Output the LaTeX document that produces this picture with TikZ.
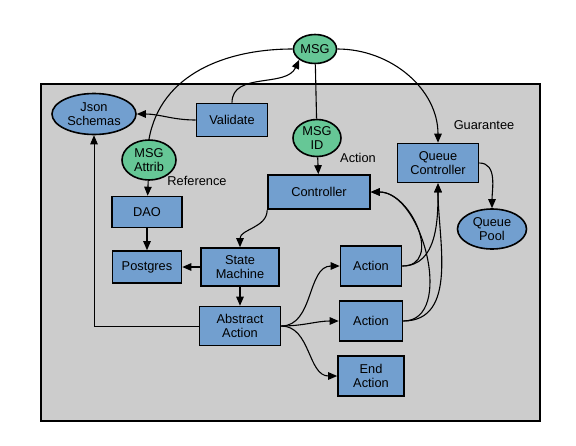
\documentclass[tikz,border=0pt]{standalone}
\usepackage{fontspec}
\setmainfont{Liberation Sans}
\usetikzlibrary{positioning,shapes.geometric,arrows.meta}
\definecolor{boxblue}{HTML}{729FCF}
\definecolor{tokengreen}{HTML}{66C796}
\definecolor{panelgray}{HTML}{CCCCCC}

\begin{document}
\begin{tikzpicture}[x=1pt, y=-1pt, node distance=55pt, on grid,
		>={Triangle[length=9pt,width=7.5pt]},
		font=\fontsize{12.8}{14.5}\selectfont]
	\tikzset{box/.style={draw, line width=1.6pt, fill=boxblue, align=center, inner sep=0pt}}
	\tikzset{token/.style={ellipse, draw, line width=1.6pt, fill=tokengreen, align=center, inner sep=0pt}}
	\tikzset{store/.style={ellipse, draw, line width=1.6pt, fill=boxblue, align=center, inner sep=0pt}}
	\tikzset{link/.style={line width=1.1pt}}
	\useasboundingbox (0,0) rectangle (576,445);
	\draw[fill=panelgray, line width=1.5pt] (41,84) rectangle (540,421);

	\node[token, minimum width=43pt, minimum height=29pt]	(msg)		at (315,49)		{MSG};
	\node[store, minimum width=84pt, minimum height=41pt]	(json)		at (94,114)		{Json\\Schemas};
	\node[box, minimum width=71pt, minimum height=33pt]		(validate)	at (232,120)	{Validate};
	\node[token, minimum width=54pt, minimum height=40pt]	(attrib)	at (149,160)	{MSG\\Attrib};
	\node[token, minimum width=48pt, minimum height=37pt]	(msgid)		at (317,138)	{MSG\\ID};
	\node[box, minimum width=102pt, minimum height=34pt]	(ctrl)		at (319,192)	{Controller};
	\node[box, minimum width=81pt, minimum height=39pt]		(qctrl)		at (438,163)	{Queue\\Controller};
	\node[store, minimum width=69pt, minimum height=40pt]	(qpool)		at (492,229)	{Queue\\Pool};
	\node[box, minimum width=70pt, minimum height=31pt]		(dao)		at (147,212)	{DAO};
	\node[box, minimum width=69pt, minimum height=32pt]		(pg)		[below=of dao]	{Postgres};
	\node[box, minimum width=78pt, minimum height=38pt]		(sm)		at (240,267)	{State\\Machine};
	\node[box, minimum width=81pt, minimum height=39pt]		(abstract)	[below=59pt of sm]	{Abstract\\Action};
	\node[box, minimum width=61pt, minimum height=40pt]		(act1)		at (371,266)	{Action};
	\node[box, minimum width=63pt, minimum height=40pt]		(act2)		[below=of act1]	{Action};
	\node[box, minimum width=66pt, minimum height=40pt]		(endact)	[below=of act2]	{End\\Action};

	\node (reference)	at (197,181)	{Reference};
	\node (action)		at (358,158)	{Action};
	\node (guarantee)	at (484,125)	{Guarantee};

	\path[link]
		(msg.east)		edge[->, out=0, in=90]		(qctrl.north)
		(validate.north)	edge[->, out=90, in=-115]	(msg.south west)
		(validate.west)	edge[->, out=180, in=0]		(json.east)
		(attrib.north)	edge[out=80, in=180]		(msg.west)
		(msg)			edge						(msgid)
		(msgid)			edge[->]					(ctrl)
		(attrib)		edge[->]					(dao)
		(dao)			edge[->]					(pg)
		(sm)			edge[->]					(pg)
		(ctrl.south west)	edge[->, out=-90, in=90]	(sm.north)
		(sm)			edge[->]					(abstract)
		(qctrl.east)	edge[->, out=0, in=90]		(qpool.north)
		(abstract.east)	edge[->, out=0, in=180]		(act1.west)
		(abstract.east)	edge[->, out=0, in=180]		(act2.west)
		(abstract.east)	edge[->, out=0, in=180]		(endact.west)
		(act1.east)		edge[->, out=0, in=0, looseness=1.3]	(ctrl.east)
		(act1.east)		edge[->, out=0, in=-90]		(qctrl.south)
		(act2.east)		edge[->, out=0, in=0]		(ctrl.east)
		(act2.east)		edge[->, out=0, in=-90]		(qctrl.south)
		;
	\draw[->, line width=0.8pt] (abstract.west) -| (json.south);
\end{tikzpicture}
\end{document}
